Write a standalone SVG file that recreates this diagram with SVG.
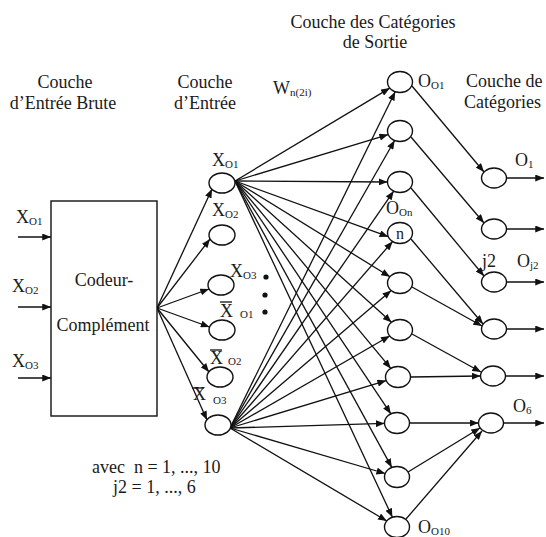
<svg xmlns="http://www.w3.org/2000/svg" width="546" height="537" viewBox="0 0 546 537" font-family="Liberation Serif, DejaVu Serif, serif">
<defs>
<style>
text{font-family:'Liberation Serif','DejaVu Serif',serif}
.t{font-size:18px;fill:#1a1a1a}
.c{text-anchor:middle}
.s{font-size:11px}
.nd{fill:#fff;stroke:#111;stroke-width:1.4}
.ln{stroke:#111;stroke-width:1.3;fill:none}
.ar{stroke:#111;stroke-width:1.3;fill:none;marker-end:url(#ah)}
</style>
<marker id="ah" viewBox="0 0 10 8" refX="10" refY="4" markerWidth="9" markerHeight="7" markerUnits="userSpaceOnUse" orient="auto"><path d="M0,0 L10,4 L0,8 z" fill="#111"/></marker>
</defs>
<rect width="546" height="537" fill="#fff"/>

<g id="headers">
<text class="t c" x="65" y="88">Couche</text>
<text class="t c" x="63" y="109">d’Entrée Brute</text>
<text class="t c" x="205" y="88">Couche</text>
<text class="t c" x="205" y="109">d’Entrée</text>
<text class="t c" x="373" y="28">Couche des Catégories</text>
<text class="t c" x="375" y="48">de Sortie</text>
<text class="t" x="466" y="87">Couche de</text>
<text class="t" x="464" y="108">Catégories</text>
<text class="t" x="92" y="473" xml:space="preserve">avec  n = 1, ..., 10</text>
<text class="t" x="113" y="493">j2 = 1, ..., 6</text>
</g>

<g id="connectors">
<line class="ar" x1="18" y1="237" x2="51" y2="237"/>
<line class="ar" x1="18" y1="307" x2="51" y2="307"/>
<line class="ar" x1="18" y1="378" x2="51" y2="378"/>

<line class="ar" x1="157" y1="308" x2="212" y2="189"/>
<line class="ar" x1="157" y1="308" x2="210" y2="239"/>
<line class="ar" x1="157" y1="308" x2="209" y2="289"/>
<line class="ar" x1="157" y1="308" x2="209.5" y2="327"/>
<line class="ar" x1="157" y1="308" x2="209" y2="372"/>
<line class="ar" x1="157" y1="308" x2="207" y2="420"/>

<line class="ar" x1="235" y1="181" x2="389.8" y2="88.1"/>
<line class="ar" x1="235" y1="181" x2="388.2" y2="134.6"/>
<line class="ar" x1="235" y1="181" x2="387.5" y2="182"/>
<line class="ar" x1="235" y1="181" x2="388.3" y2="236.7"/>
<line class="ar" x1="235" y1="181" x2="390" y2="276.8"/>
<line class="ar" x1="235" y1="181" x2="391.5" y2="322.3"/>
<line class="ar" x1="235" y1="181" x2="390.8" y2="368.4"/>
<line class="ar" x1="235" y1="181" x2="390.9" y2="413.9"/>
<line class="ar" x1="235" y1="181" x2="391.8" y2="467.4"/>
<line class="ar" x1="235" y1="181" x2="392.4" y2="517.2"/>

<line class="ar" x1="230" y1="428" x2="395.2" y2="91.7"/>
<line class="ar" x1="230" y1="428" x2="394.6" y2="140.5"/>
<line class="ar" x1="230" y1="428" x2="393.7" y2="191.1"/>
<line class="ar" x1="230" y1="428" x2="392.6" y2="241.5"/>
<line class="ar" x1="230" y1="428" x2="391.2" y2="290.5"/>
<line class="ar" x1="230" y1="428" x2="389.7" y2="336"/>
<line class="ar" x1="230" y1="428" x2="386.2" y2="380.6"/>
<line class="ar" x1="230" y1="428" x2="384.5" y2="423.4"/>
<line class="ar" x1="230" y1="428" x2="385.2" y2="473.5"/>
<line class="ar" x1="230" y1="428" x2="386.8" y2="521"/>

<line class="ar" x1="412" y1="86" x2="484" y2="172"/>
<line class="ar" x1="411" y1="137" x2="484" y2="223"/>
<line class="ar" x1="411" y1="188" x2="484" y2="276"/>
<line class="ar" x1="411" y1="239" x2="483" y2="324"/>
<line class="ar" x1="412" y1="287" x2="482" y2="326"/>
<line class="ar" x1="412" y1="334" x2="481" y2="372"/>
<line class="ar" x1="410.5" y1="377" x2="480.5" y2="376"/>
<line class="ar" x1="409.5" y1="423" x2="478.5" y2="423"/>
<line class="ar" x1="408" y1="472" x2="480" y2="428"/>
<line class="ar" x1="406" y1="519" x2="482" y2="431"/>

<line class="ar" x1="506.5" y1="178" x2="544" y2="178"/>
<line class="ar" x1="506.5" y1="229" x2="544" y2="229"/>
<line class="ar" x1="506.5" y1="282" x2="544" y2="282"/>
<line class="ar" x1="506.5" y1="329" x2="544" y2="329"/>
<line class="ar" x1="505.5" y1="376" x2="544" y2="376"/>
<line class="ar" x1="503.5" y1="423" x2="544" y2="423"/>
</g>

<g id="raw-x1"><text class="t" x="16" y="223">X<tspan class="s" dy="2">O1</tspan></text></g>
<g id="raw-x2"><text class="t" x="12" y="292">X<tspan class="s" dy="2">O2</tspan></text></g>
<g id="raw-x3"><text class="t" x="12" y="367">X<tspan class="s" dy="2">O3</tspan></text></g>

<g id="encoder">
<rect class="nd" x="51" y="201" width="106" height="215"/>
<text class="t c" x="104" y="286">Codeur-</text>
<text class="t c" x="103" y="331">Complément</text>
</g>

<g id="in-x1"><ellipse class="nd" cx="222" cy="183" rx="13" ry="10"/><text class="t" x="212" y="166">X<tspan class="s" dy="2">O1</tspan></text></g>
<g id="in-x2"><ellipse class="nd" cx="222" cy="235" rx="13" ry="10"/><text class="t" x="212" y="216">X<tspan class="s" dy="2">O2</tspan></text></g>
<g id="in-x3"><ellipse class="nd" cx="221" cy="285" rx="13" ry="10"/><text class="t" x="230" y="277">X<tspan class="s" dy="2">O3</tspan></text></g>
<g id="in-xb1"><ellipse class="nd" cx="222" cy="330" rx="13" ry="10"/><text class="t" x="220" y="317">X</text><line class="ln" x1="220" y1="302" x2="232" y2="302"/><text class="t s" x="240" y="318">O1</text></g>
<g id="in-xb2"><ellipse class="nd" cx="220" cy="377" rx="13" ry="10"/><text class="t" x="210" y="364">X</text><line class="ln" x1="210" y1="350" x2="222" y2="350"/><text class="t s" x="228" y="365">O2</text></g>
<g id="in-xb3"><ellipse class="nd" cx="218" cy="425" rx="13" ry="10"/><text class="t" x="193" y="400">X</text><line class="ln" x1="192" y1="388" x2="204" y2="388"/><text class="t s" x="213" y="404">O3</text></g>
<g id="dots"><circle cx="266" cy="277" r="2.6" fill="#111"/><circle cx="265" cy="295" r="2.6" fill="#111"/><circle cx="265" cy="312" r="2.6" fill="#111"/></g>
<g id="weight"><text class="t" x="273" y="94">W<tspan class="s" dy="2">n(2i)</tspan></text></g>

<g id="out-1"><ellipse class="nd" cx="400" cy="82" rx="12.5" ry="10.5"/><text class="t" x="418" y="87">O<tspan class="s" dy="2">O1</tspan></text></g>
<g id="out-2"><ellipse class="nd" cx="400" cy="131" rx="12.5" ry="10.5"/></g>
<g id="out-3"><ellipse class="nd" cx="400" cy="182" rx="12.5" ry="10.5"/></g>
<g id="out-n"><ellipse class="nd" cx="400" cy="233" rx="12.5" ry="10.5"/><text class="t c" x="400" y="239" style="font-size:16px">n</text><text class="t" x="386" y="214">O<tspan class="s" dy="2">On</tspan></text></g>
<g id="out-5"><ellipse class="nd" cx="400" cy="283" rx="12.5" ry="10.5"/></g>
<g id="out-6"><ellipse class="nd" cx="400" cy="330" rx="12.5" ry="10.5"/></g>
<g id="out-7"><ellipse class="nd" cx="398" cy="377" rx="12.5" ry="10.5"/></g>
<g id="out-8"><ellipse class="nd" cx="397" cy="423" rx="12.5" ry="10.5"/></g>
<g id="out-9"><ellipse class="nd" cx="397" cy="477" rx="12.5" ry="10.5"/></g>
<g id="out-10"><ellipse class="nd" cx="397" cy="527" rx="12.5" ry="10.5"/><text class="t" x="418" y="533">O<tspan class="s" dy="2">O10</tspan></text></g>

<g id="cat-1"><ellipse class="nd" cx="494" cy="178" rx="12.5" ry="10"/><text class="t" x="515" y="166">O<tspan class="s" dy="2">1</tspan></text></g>
<g id="cat-2"><ellipse class="nd" cx="494" cy="229" rx="12.5" ry="10"/></g>
<g id="cat-3"><ellipse class="nd" cx="494" cy="282" rx="12.5" ry="10"/><text class="t" x="482" y="267">j2</text><text class="t" x="517" y="267">O<tspan class="s" dy="2">j2</tspan></text></g>
<g id="cat-4"><ellipse class="nd" cx="494" cy="329" rx="12.5" ry="10"/></g>
<g id="cat-5"><ellipse class="nd" cx="493" cy="376" rx="12.5" ry="10"/></g>
<g id="cat-6"><ellipse class="nd" cx="491" cy="423" rx="12.5" ry="10"/><text class="t" x="513" y="412">O<tspan class="s" dy="2">6</tspan></text></g>
</svg>
